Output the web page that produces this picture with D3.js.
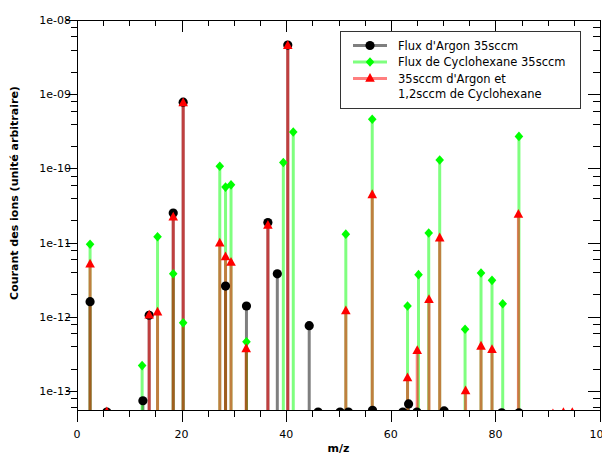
<!DOCTYPE html>
<html><head><meta charset="utf-8">
<script src="https://cdn.jsdelivr.net/npm/d3@7"></script>
<style>body{margin:0;background:#fff} svg{display:block} text{font-family:"DejaVu Sans",sans-serif}</style>
</head><body><svg id="c" width="602" height="454"></svg>
<script>
// ---- data ----
const legendLabels = ["Flux d'Argon 35sccm", "Flux de Cyclohexane 35sccm", "35sccm d'Argon et", "1,2sccm de Cyclohexane"];
const xLabel = "m/z";
const yLabel = "Courant des ions (unité arbitraire)";

const argonMz  = [2.5, 5.7, 12.6, 13.8, 18.4, 20.3, 28.4, 32.4, 36.5, 38.3, 40.3, 44.4, 46.1, 50.3, 51.9, 56.5, 62.3, 63.4, 65.0, 70.2, 81.2, 84.5, 87.8, 97.7];
const argonVal = [1.6e-12, 5.2e-14, 7.4e-14, 1.05e-12, 2.5e-11, 7.8e-10, 2.6e-12, 1.4e-12, 1.86e-11, 3.8e-12, 4.6e-9, 7.6e-13, 5.2e-14, 5.2e-14, 5.2e-14, 5.5e-14, 5.2e-14, 6.7e-14, 5.2e-14, 5.4e-14, 5.1e-14, 5.1e-14, 4.8e-14, 4.8e-14];

const cycloMz  = [2.5, 12.45, 15.4, 18.4, 20.3, 27.3, 28.4, 29.45, 32.4, 39.45, 41.35, 51.4, 56.45, 63.2, 65.3, 67.25, 69.35, 74.2, 77.25, 79.35, 81.4, 84.5];
const cycloVal = [9.5e-12, 2.2e-13, 1.2e-11, 3.8e-12, 8.3e-13, 1.07e-10, 5.6e-11, 6.0e-11, 4.6e-13, 1.2e-10, 3.1e-10, 1.3e-11, 4.6e-10, 1.4e-12, 3.7e-12, 1.35e-11, 1.3e-10, 6.8e-13, 3.9e-12, 3.1e-12, 1.5e-12, 2.7e-10];

const mixMz  = [2.5, 5.7, 13.8, 15.4, 18.4, 20.3, 27.3, 28.4, 29.45, 32.35, 36.5, 40.3, 51.4, 56.45, 63.2, 65.05, 67.3, 69.35, 74.3, 77.25, 79.35, 84.4, 91.0, 93.0, 94.7];
const mixVal = [5.1e-12, 5.2e-14, 1.05e-12, 1.15e-12, 2.2e-11, 7.6e-10, 9.8e-12, 6.4e-12, 5.4e-12, 3.7e-13, 1.7e-11, 4.5e-9, 1.2e-12, 4.4e-11, 1.5e-13, 3.5e-13, 1.7e-12, 1.15e-11, 1.0e-13, 4.0e-13, 3.6e-13, 2.4e-11, 4.9e-14, 5.1e-14, 5.1e-14];

const xTicks = [0, 20, 40, 60, 80, 100];
const yTicks = [1e-13, 1e-12, 1e-11, 1e-10, 1e-9, 1e-8];
const yTickLabels = ["1e-13", "1e-12", "1e-11", "1e-10", "1e-09", "1e-08"];

// ---- layout ----
const L = 77, R = 600, T = 20, B = 410;
const svg = d3.select("#c");
const x = d3.scaleLinear().domain([0, 100]).range([L, R]);
const y = d3.scaleLog().domain([5.55e-14, 1e-8]).range([B, T]);

const series = [
  {mz: argonMz, val: argonVal, color: "#000000", shape: "circle"},
  {mz: cycloMz, val: cycloVal, color: "#00ff00", shape: "diamond"},
  {mz: mixMz, val: mixVal, color: "#ff0000", shape: "triangle"}
];

svg.append("defs").append("clipPath").attr("id", "clip")
  .append("rect").attr("x", L).attr("y", T).attr("width", R - L).attr("height", B - T);

const plot = svg.append("g").attr("clip-path", "url(#clip)");

// stems
series.forEach(s => {
  plot.append("g").selectAll("line").data(d3.zip(s.mz, s.val)).join("line")
    .attr("x1", d => x(d[0])).attr("x2", d => x(d[0]))
    .attr("y1", B).attr("y2", d => Math.min(B, y(d[1])))
    .attr("stroke", s.color).attr("stroke-opacity", 0.5).attr("stroke-width", 3);
});

function shapePath(shape) {
  if (shape === "diamond") return "M0,-4.8L4.3,0L0,4.8L-4.3,0Z";
  if (shape === "triangle") return "M0,-5.5L4.8,3.3L-4.8,3.3Z";
  return null;
}
function drawMarker(g, shape, color, cx, cy) {
  if (shape === "circle") {
    g.append("circle").attr("cx", cx).attr("cy", cy).attr("r", 4.6).attr("fill", color);
  } else {
    g.append("path").attr("d", shapePath(shape)).attr("transform", `translate(${cx},${cy})`).attr("fill", color);
  }
}
// markers
series.forEach(s => {
  const g = plot.append("g");
  d3.zip(s.mz, s.val).forEach(d => drawMarker(g, s.shape, s.color, x(d[0]), y(d[1])));
});

// ---- axes / frame ----
const axisG = svg.append("g").attr("stroke", "#000").attr("stroke-width", 1).attr("shape-rendering", "crispEdges");
axisG.append("rect").attr("x", L).attr("y", T).attr("width", R - L).attr("height", B - T).attr("fill", "none");

const xMinor = d3.range(0, 101, 5);
xMinor.forEach(v => {
  const major = v % 20 === 0;
  const px = Math.round(x(v)) + 0.5;
  axisG.append("line").attr("x1", px).attr("x2", px).attr("y1", B).attr("y2", B + (major ? 12 : 7));
  axisG.append("line").attr("x1", px).attr("x2", px).attr("y1", T).attr("y2", T + (major ? 12 : 6));
});

const yMinor = [];
for (let e = -14; e <= -9; e++) [2, 4, 6, 8].forEach(m => { const v = m * Math.pow(10, e); if (v >= 5.55e-14 && v <= 1e-8) yMinor.push(v); });
yMinor.forEach(v => {
  const py = Math.round(y(v)) + 0.5;
  axisG.append("line").attr("x1", L - 6).attr("x2", L).attr("y1", py).attr("y2", py);
  axisG.append("line").attr("x1", R - 7).attr("x2", R).attr("y1", py).attr("y2", py);
});
yTicks.forEach(v => {
  const py = Math.round(y(v)) + 0.5;
  axisG.append("line").attr("x1", L - 11).attr("x2", L).attr("y1", py).attr("y2", py);
  axisG.append("line").attr("x1", R - 12).attr("x2", R).attr("y1", py).attr("y2", py);
});

// tick labels
svg.append("g").selectAll("text").data(xTicks).join("text")
  .attr("x", d => x(d)).attr("y", 438).attr("text-anchor", "middle")
  .attr("font-size", 11).attr("fill", "#000").text(d => d);
svg.append("g").selectAll("text").data(yTicks).join("text")
  .attr("x", 71).attr("y", d => y(d) + 4).attr("text-anchor", "end")
  .attr("font-size", 11).attr("fill", "#000").text((d, i) => yTickLabels[i]);

// axis titles
svg.append("text").attr("x", (L + R) / 2).attr("y", 452).attr("text-anchor", "middle")
  .attr("font-size", 11).attr("font-weight", "bold").text(xLabel);
svg.append("text").attr("transform", "translate(18,193) rotate(-90)").attr("text-anchor", "middle")
  .attr("font-size", 11).attr("font-weight", "bold").text(yLabel);

// ---- legend ----
const lg = svg.append("g");
lg.append("rect").attr("x", 340.5).attr("y", 31.5).attr("width", 240).attr("height", 77)
  .attr("fill", "#fff").attr("stroke", "#333").attr("stroke-width", 1);
const rowsY = [45.5, 62, 78.5];
series.forEach((s, i) => {
  lg.append("line").attr("x1", 353).attr("x2", 387).attr("y1", rowsY[i]).attr("y2", rowsY[i])
    .attr("stroke", s.color).attr("stroke-opacity", 0.5).attr("stroke-width", 3);
  drawMarker(lg, s.shape, s.color, 370, rowsY[i]);
});
[45.5, 62, 78.5, 94].forEach((ry, i) => {
  lg.append("text").attr("x", 398).attr("y", ry + 4).attr("font-size", 11.5).attr("fill", "#000").text(legendLabels[i]);
});
</script>
</body></html>
